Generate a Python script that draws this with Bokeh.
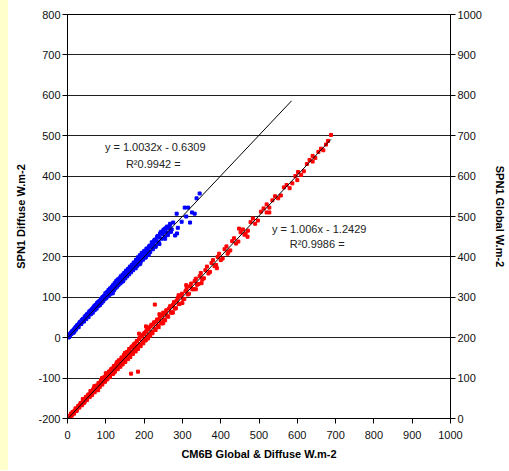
from bokeh.plotting import figure
from bokeh.models import Range1d, LinearAxis, SingleIntervalTicker, Label, NumeralTickFormatter, Div
from bokeh.layouts import row
from bokeh.embed import file_html
from bokeh.resources import INLINE

# ---- data ----
diffuse_x = [1,2,3,4,5,6,7,8,9,10,11,12,13,14,15,16,17,18,19,20,21,22,23,24,25,26,27,28,30,31,32,33,35,36,37,38,40,41,42,44,45,47,48,50,51,53,54,56,57,59,60,62,63,65,67,68,70,72,73,75,77,79,80,82,84,86,88,90,92,94,96,98,100,102,104,106,108,110,112,114,116,118,120,122,124,126,128,130,132,134,136,138,140,143,145,147,150,152,155,157,160,162,165,167,170,172,175,178,180,183,185,188,190,193,196,199,202,205,208,211,215,218,222,225,228,232,236,240,244,248,252,256,260,265,
             118,145,160,178,190,205,212,230,238,242,255,255,262,270,281,285,286,288,298,306,310,315,320,325,332,337,345,268,240,
             3,5,8,12,15,18,22,26,29,33,36,39,43,46,49,52,55,58,61,64,66,69,71,74,76,78,81,83,85,87,89,91,93,95,97,99,101,103,105,107,109,111,113,115,117,119,121,123,125,127,129,131,133,135,137,139,141,144,146,148,151,153,156,158,161,163,166,168,171,173,176,179,181,184,186,189,191,194,197,200,203,206,209,213,216,220,223,226,230,234,238,242,246,250,254,258,263,267,272,276]
diffuse_y = [2,1,5,3,7,5,9,8,12,9,14,13,12,17,16,19,16,22,20,24,22,27,24,25,30,27,31,29,35,33,38,34,40,37,43,39,46,42,47,46,52,49,55,53,58,55,60,59,65,61,67,64,70,68,74,70,78,75,81,78,85,82,88,85,91,89,96,93,99,97,104,101,108,105,113,109,116,113,120,118,126,121,129,126,133,129,138,134,142,138,147,142,150,147,155,150,161,156,165,161,171,166,175,171,181,176,186,183,192,187,197,193,203,198,208,204,215,210,221,216,228,224,235,231,243,240,252,248,262,257,268,262,275,271,
             110,140,158,172,183,200,205,225,233,258,270,245,254,262,253,307,258,272,287,322,300,322,285,310,307,345,357,282,232,
             1,3,11,16,12,15,20,31,26,38,34,44,40,50,46,57,51,64,58,70,62,75,68,80,72,86,78,90,81,95,86,100,90,102,95,110,98,112,102,118,106,122,109,124,114,130,117,135,122,140,126,144,130,145,134,152,137,156,142,160,147,166,152,170,157,176,162,180,167,186,172,193,177,199,181,204,188,210,193,214,198,220,205,226,212,236,219,240,226,250,236,258,245,266,250,272,260,278,268,285]

global_x = [2,4,6,8,10,12,14,16,18,20,22,25,27,30,32,35,37,40,42,45,47,50,52,55,57,60,62,65,67,70,72,75,77,80,82,85,87,90,92,95,97,100,102,105,107,110,112,115,117,120,122,125,127,130,132,135,137,140,142,145,147,150,152,155,157,160,162,165,167,170,172,175,177,180,182,185,187,190,193,196,199,202,205,208,211,214,217,220,224,228,232,236,240,244,248,252,256,260,265,270,275,280,285,290,296,302,308,314,320,326,332,338,345,352,360,368,376,384,392,400,410,420,430,440,452,465,478,490,505,520,535,550,565,580,595,610,625,640,655,668,680,688,
            228,184,166,187,150,130,210,205,250,240,300,310,350,390,418,462,527,448,470,520,600,640,120,100,60,40,80,90,70,335,275,290,
            3,5,9,11,13,17,21,24,28,31,34,38,41,44,48,51,54,58,61,64,68,71,74,78,81,84,88,91,94,98,101,104,108,111,114,118,121,124,128,131,134,138,141,144,148,151,154,158,161,164,168,171,174,178,181,184,188,191,195,198,201,204,207,210,213,216,219,222,226,230,234,238,242,246,250,255,258,263,268,273,278,283,288,293,299,305,311,317,323,329,335,342,348,356,364,372,380,388,396,405,415,425,435,446,458,471,484,497,512,527,542,557,572,587,602,617,632,647,662,675]
global_y = [1,3,7,6,11,10,15,14,19,18,24,23,28,29,34,33,39,38,44,43,50,48,55,53,60,57,66,62,71,68,76,72,82,77,87,83,92,86,97,92,103,96,108,101,113,106,118,110,124,115,128,121,133,125,139,130,144,134,150,140,155,144,160,150,165,154,170,160,176,164,181,169,186,174,191,179,197,183,203,190,209,196,215,202,221,208,228,214,233,222,240,230,247,238,256,245,262,254,272,262,281,272,292,283,303,296,315,307,327,320,340,331,352,344,367,359,385,377,400,392,419,412,439,433,461,458,486,482,512,510,540,545,572,570,600,603,630,636,660,664,687,702,
            282,116,111,210,162,140,198,228,236,258,286,330,335,372,408,455,510,470,450,530,590,650,112,112,68,48,70,100,80,320,262,305,
            5,2,12,7,16,12,25,19,31,27,38,33,47,39,53,46,59,53,67,58,74,65,80,72,88,78,95,84,101,91,110,97,116,103,122,110,130,116,137,122,144,128,151,134,158,140,164,147,172,152,178,160,184,166,192,172,199,179,206,186,212,193,219,199,225,205,232,211,238,219,245,226,253,235,262,243,268,252,278,263,288,273,298,284,309,296,321,309,334,320,346,333,360,347,376,363,392,380,408,396,426,416,446,438,468,465,495,490,520,522,550,552,578,582,610,612,640,645,668,678]

diffuse_fit = (1.0032, -0.6309)
global_fit = (1.006, -1.2429)
diffuse_forecast = 240

tick_interval = 100

FONT = "Liberation Sans"

p = figure(width=500, height=470, output_backend="svg", toolbar_location=None,
           x_range=Range1d(0, 1000), y_range=Range1d(-200, 800),
           min_border_left=59, min_border_right=56, min_border_top=14, min_border_bottom=52)
p.extra_y_ranges = {"right": Range1d(0, 1000)}
p.background_fill_color = "white"
p.border_fill_color = "white"
p.outline_line_color = "black"

p.xgrid.grid_line_color = None
p.ygrid.grid_line_color = "#202020"
p.ygrid.grid_line_width = 1

def style_axis(ax, standoff_title, standoff_label):
    ax.ticker = SingleIntervalTicker(interval=tick_interval, num_minor_ticks=0)
    ax.formatter = NumeralTickFormatter(format="0")
    ax.axis_line_color = "black"
    ax.major_tick_line_color = "black"
    ax.major_tick_out = 5
    ax.major_tick_in = 0
    ax.minor_tick_line_color = None
    ax.major_label_text_font = FONT
    ax.major_label_text_font_size = "11px"
    ax.major_label_text_color = "#111111"
    ax.major_label_standoff = standoff_label
    ax.axis_label_text_font = FONT
    ax.axis_label_text_font_size = "11px"
    ax.axis_label_text_font_style = "bold"
    ax.axis_label_text_color = "black"
    ax.axis_label_standoff = standoff_title

p.xaxis.axis_label = "CM6B Global & Diffuse W.m-2"
p.yaxis.axis_label = "SPN1 Diffuse W.m-2"
style_axis(p.xaxis[0], 6, 7)
style_axis(p.yaxis[0], 8, 2)

right_ax = LinearAxis(y_range_name="right", axis_label="SPN1 Global W.m-2")
style_axis(right_ax, 9, 2)
p.add_layout(right_ax, "right")

p.scatter(diffuse_x, diffuse_y, marker="square", size=3, fill_color="#0000ff", line_color="#0000ff")
p.scatter(global_x, global_y, marker="square", size=3, fill_color="#ff0000", line_color="#ff0000",
          y_range_name="right")

dx_end = max(diffuse_x) + diffuse_forecast
p.line([0, dx_end], [diffuse_fit[1], diffuse_fit[0] * dx_end + diffuse_fit[1]],
       line_color="black", line_width=1)
gx_end = max(global_x)
p.line([0, gx_end], [global_fit[1], global_fit[0] * gx_end + global_fit[1]],
       line_color="black", line_width=1, y_range_name="right")

def lab(x, y, t):
    p.add_layout(Label(x=x, y=y, text=t, text_font=FONT, text_font_size="11px",
                       text_color="#222222", text_align="center", text_baseline="middle"))

lab(229, 473, "y = 1.0032x - 0.6309")
lab(224, 431, "R²0.9942 =")
lab(657, 270, "y = 1.006x - 1.2429")
lab(652, 231, "R²0.9986 =")

strip = Div(text="", width=8, height=470, styles={"background-color": "#FFFFCC", "margin": "0"})
layout = row(strip, p, spacing=0)

open("out.html", "w").write(file_html(layout, INLINE))
